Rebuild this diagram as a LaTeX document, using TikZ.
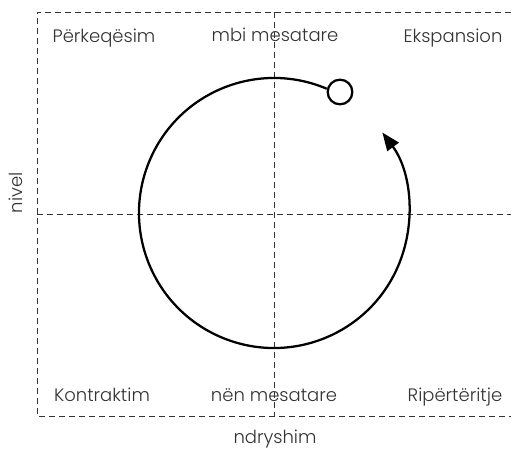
\documentclass[tikz,border=0pt]{standalone}
\usepackage{fontspec}
\IfFontExistsTF{Poppins Light}{\setmainfont{Poppins Light}}{\setmainfont{Poppins}}
\usetikzlibrary{arrows.meta}
\definecolor{txtgray}{HTML}{333333}
\definecolor{guidegray}{HTML}{333333}
\begin{document}
\begin{tikzpicture}[x=0.75pt,y=0.75pt,
  guide/.style={draw=guidegray, line width=0.7pt, dash pattern=on 4.5pt off 3pt},
  lbl/.style={text=txtgray, font=\fontsize{13.5}{16}\selectfont, inner sep=0pt, anchor=base},
  cyc/.style={line width=1.7pt, draw=black}]
\useasboundingbox (0,0) rectangle (511,451);
\coordinate (TL) at (37,439);
\coordinate (TR) at (511,439);
\coordinate (BL) at (37,35);
\coordinate (BR) at (511,35);
\coordinate (ML) at (37,237);
\coordinate (MR) at (511,237);
\coordinate (MT) at (274,439);
\coordinate (MB) at (274,35);
\draw[guide] (TR) -- (TL) -- (BL) -- (BR);
\draw[guide] (ML) -- (MR);
\draw[guide] (MT) -- (MB);
\node[lbl] (q1) at (104,408) {Përkeqësim};
\node[lbl] (q2) at (275,409) {mbi mesatare};
\node[lbl] (q3) at (453,408) {Ekspansion};
\node[lbl] (q4) at (102,50) {Kontraktim};
\node[lbl] (q5) at (274,50) {nën mesatare};
\node[lbl] (q6) at (455,50) {Ripërtëritje};
\node[lbl] (xl) at (275,8) {ndryshim};
\node[lbl, rotate=90] (yl) at (23,258) {nivel};
\coordinate (O) at (274,238);
\draw[cyc, -{Triangle[length=13.5pt,width=10.5pt]}] ([shift={(67:135)}]O) arc[start angle=67, end angle=396.6, radius=135];
\node[circle, draw=black, line width=1.7pt, fill=white, minimum size=18.5pt, inner sep=0pt] (start) at (340,359) {};
\end{tikzpicture}
\end{document}
